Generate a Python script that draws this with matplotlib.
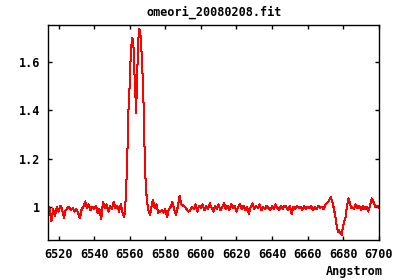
import matplotlib
matplotlib.use("Agg")
import matplotlib.pyplot as plt
import numpy as np

# --- data ---
# blue continuum 6514..6556 (1 A steps)
wl_blue = list(range(6514, 6557))
fx_blue = [1.01, 0.99, 0.94, 0.99, 0.96, 1.0, 0.98, 1.005, 0.99, 0.955,
           0.985, 0.995, 1.0, 0.985, 0.995, 0.98, 0.99, 0.975, 0.952, 0.99,
           1.0, 1.022, 0.995, 1.01, 0.985, 1.0, 0.99, 1.005, 0.975, 0.99,
           0.947, 1.02, 0.995, 1.01, 0.98, 1.005, 0.99, 1.02, 0.995, 1.005,
           0.98, 1.01, 0.975]
# H-alpha emission (dense sampling)
wl_em = [6556.9, 6557.5, 6558.0, 6558.6, 6559.1, 6559.7, 6560.3, 6560.8,
         6561.4, 6562.0, 6562.5, 6563.1, 6563.6, 6564.2, 6564.8, 6565.3,
         6565.9, 6566.5, 6567.0, 6567.6, 6568.1, 6568.7, 6569.3, 6569.8,
         6570.4, 6571.0, 6571.5]
fx_em = [0.956, 1.00, 1.08, 1.18, 1.374, 1.45, 1.58, 1.66,
         1.70, 1.69, 1.58, 1.485, 1.39, 1.55, 1.69, 1.74,
         1.73, 1.665, 1.58, 1.485, 1.31, 1.14, 1.06, 1.02,
         0.986, 0.974, 0.965]
# continuum 6572..6672
wl_mid = list(range(6572, 6673))
fx_mid = [0.99, 1.028, 0.995, 1.01, 0.975, 0.98, 0.985, 0.975, 0.99, 0.956,
          0.99, 1.0, 1.02, 0.99, 0.965, 1.0, 1.045, 1.01, 1.005, 1.0,
          0.99, 0.98, 0.985, 1.0, 0.99, 1.01, 0.98, 1.005,
          0.995, 1.01, 0.985, 1.005, 0.99, 1.015, 0.995, 0.98, 1.005, 0.99,
          1.01, 0.985, 1.0, 1.015, 0.99, 1.005, 0.985, 1.01, 0.995, 1.005,
          0.98, 1.0, 1.01, 0.99, 1.005, 0.985, 1.0, 0.97, 1.0, 1.015,
          0.99, 1.005, 0.995, 1.01, 0.985, 1.0, 0.99, 1.005, 0.995, 0.985,
          1.005, 0.99, 1.01, 0.995, 0.985, 1.005, 0.99, 1.005, 1.0, 0.985,
          1.005, 0.97, 1.0, 0.99, 1.005, 0.995, 1.0, 0.985, 1.005, 0.99,
          1.0, 0.995, 1.005, 0.985, 1.0, 0.99, 1.005, 0.995, 1.0, 0.99,
          1.01, 1.015, 1.025]
# He I absorption
wl_ab = [6673.0, 6673.9, 6674.9, 6675.7, 6676.4, 6677.0, 6677.6, 6678.1,
         6678.7, 6679.2, 6679.8, 6680.5, 6681.3, 6681.8, 6682.4, 6683.0,
         6683.7, 6684.6]
fx_ab = [1.04, 1.02, 0.986, 0.952, 0.917, 0.896, 0.905, 0.893,
         0.889, 0.882, 0.917, 0.938, 0.958, 0.986, 1.014, 1.035,
         1.014, 0.993]
# red continuum
wl_red = list(range(6685, 6701))
fx_red = [1.0, 0.99, 1.01, 0.995, 1.005, 0.985, 1.005, 0.99, 1.0, 0.98,
          1.005, 1.035, 1.02, 1.0, 1.005, 0.995]

x_ticks = [6520, 6540, 6560, 6580, 6600, 6620, 6640, 6660, 6680, 6700]
y_ticks = [1.0, 1.2, 1.4, 1.6]
y_tick_labels = ["1", "1.2", "1.4", "1.6"]
title = "omeori_20080208.fit"
xlabel = "Angstrom"

wl = wl_blue + wl_em + wl_mid + wl_ab + wl_red
fx = fx_blue + fx_em + fx_mid + fx_ab + fx_red

font = dict(family="DejaVu Sans Mono", weight="bold", size=8.5)

fig = plt.figure(figsize=(4.0, 2.8), dpi=100)
ax = fig.add_axes([0.1205, 0.1429, 0.8275, 0.7678])
ax.plot(wl, fx, color="#ff0000", lw=0.72, antialiased=False)
ax.set_xlim(6514.2, 6700.2)
ax.set_ylim(0.862, 1.755)
ax.set_xticks(x_ticks)
ax.set_xticklabels([str(t) for t in x_ticks], fontdict=font)
ax.set_yticks(y_ticks)
ax.set_yticklabels(y_tick_labels, fontdict=font)
ax.tick_params(direction="in", length=3, width=1, top=True, right=True,
               colors="black")
ax.tick_params(axis="x", pad=6)
ax.tick_params(axis="y", pad=6)
for s in ax.spines.values():
    s.set_linewidth(1.0)
    s.set_color("black")
ax.set_title(title, fontdict=font, pad=7)
fig.text(383 / 400, 1 - 271 / 280, xlabel, ha="right", va="center", **font)
fig.savefig("out.png", dpi=100)
